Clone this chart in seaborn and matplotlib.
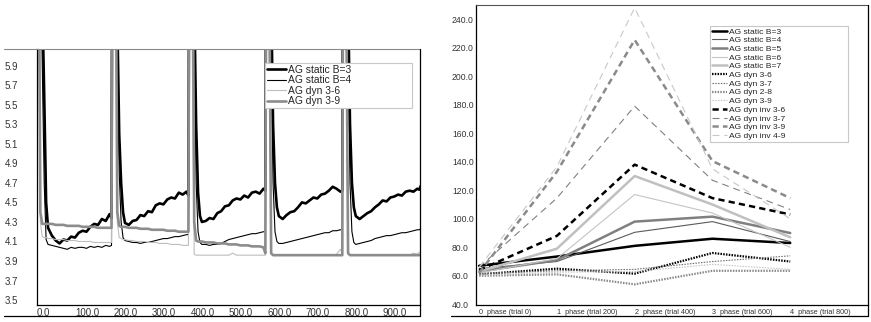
import matplotlib
matplotlib.use("Agg")
import matplotlib.pyplot as plt
import seaborn as sns

# ---- left panel: per-trial values, 5 phases of 200 trials ----
phase_starts = [0, 200, 400, 600, 800]
offsets = [0, 5, 10, 15, 20, 25, 30, 40, 50, 60, 70, 80, 90, 100, 110, 120,
           130, 140, 150, 160, 170, 180, 190, 195]
last_trial = 999

static_b3 = [
    12.0, 9.5, 8.0, 6.6, 5.6, 4.5, 4.24, 4.16, 4.11, 4.08, 4.12, 4.11, 4.15, 4.14, 4.19, 4.21, 4.20, 4.25, 4.28, 4.27, 4.33, 4.31, 4.38, 4.34,
    12.0, 9.8, 6.4, 5.2, 4.7, 4.4, 4.29, 4.27, 4.31, 4.32, 4.37, 4.36, 4.41, 4.40, 4.47, 4.49, 4.48, 4.53, 4.55, 4.54, 4.60, 4.58, 4.61, 4.57,
    12.0, 9.8, 6.6, 5.3, 4.6, 4.36, 4.30, 4.31, 4.34, 4.33, 4.39, 4.41, 4.46, 4.47, 4.52, 4.54, 4.53, 4.57, 4.55, 4.60, 4.61, 4.59, 4.64, 4.62,
    12.0, 9.8, 6.6, 5.3, 4.7, 4.45, 4.36, 4.33, 4.37, 4.40, 4.41, 4.45, 4.50, 4.49, 4.52, 4.55, 4.54, 4.58, 4.59, 4.62, 4.66, 4.64, 4.61, 4.62,
    12.0, 9.8, 6.6, 5.3, 4.7, 4.45, 4.36, 4.33, 4.36, 4.39, 4.41, 4.45, 4.48, 4.52, 4.51, 4.55, 4.56, 4.58, 4.57, 4.61, 4.62, 4.61, 4.64, 4.63,
    4.67]
static_b4 = [
    12.0, 9.0, 7.2, 5.9, 4.7, 4.12, 4.07, 4.06, 4.05, 4.04, 4.03, 4.02, 4.04, 4.03, 4.04, 4.04, 4.03, 4.05, 4.04, 4.05, 4.04, 4.06, 4.05, 4.06,
    12.0, 9.0, 6.0, 4.8, 4.3, 4.14, 4.11, 4.10, 4.09, 4.09, 4.08, 4.09, 4.09, 4.10, 4.11, 4.12, 4.13, 4.13, 4.14, 4.15, 4.15, 4.16, 4.17, 4.17,
    12.0, 9.0, 6.0, 4.7, 4.2, 4.09, 4.07, 4.07, 4.06, 4.07, 4.07, 4.08, 4.10, 4.12, 4.13, 4.14, 4.15, 4.16, 4.17, 4.18, 4.18, 4.19, 4.20, 4.20,
    12.0, 9.0, 6.0, 4.7, 4.2, 4.10, 4.08, 4.08, 4.09, 4.10, 4.11, 4.12, 4.13, 4.14, 4.15, 4.16, 4.17, 4.18, 4.19, 4.19, 4.21, 4.21, 4.22, 4.22,
    12.0, 9.0, 6.0, 4.7, 4.2, 4.09, 4.07, 4.08, 4.09, 4.10, 4.11, 4.13, 4.14, 4.15, 4.16, 4.16, 4.17, 4.18, 4.19, 4.19, 4.20, 4.21, 4.22, 4.22,
    4.23]
dyn_3_6 = [
    12.0, 7.0, 4.3, 4.15, 4.14, 4.14, 4.13, 4.13, 4.12, 4.12, 4.12, 4.11, 4.11, 4.11, 4.10, 4.10, 4.10, 4.10, 4.09, 4.09, 4.09, 4.09, 4.09, 4.09,
    12.0, 7.0, 4.3, 4.14, 4.13, 4.12, 4.12, 4.11, 4.11, 4.10, 4.10, 4.10, 4.09, 4.09, 4.09, 4.08, 4.08, 4.08, 4.07, 4.07, 4.07, 4.06, 4.06, 4.06,
    12.0, 6.0, 3.97, 3.96, 3.96, 3.96, 3.96, 3.96, 3.96, 3.96, 3.96, 3.96, 3.96, 3.96, 3.98, 3.96, 3.96, 3.96, 3.96, 3.96, 3.96, 3.96, 3.96, 3.96,
    12.0, 6.0, 3.97, 3.96, 3.96, 3.96, 3.96, 3.96, 3.96, 3.96, 3.96, 3.96, 3.96, 3.96, 3.96, 3.96, 3.96, 3.96, 3.96, 3.96, 3.96, 3.97, 4.02, 3.98,
    12.0, 6.0, 3.97, 3.96, 3.96, 3.96, 3.96, 3.96, 3.96, 3.96, 3.96, 3.96, 3.96, 3.96, 3.96, 3.96, 3.96, 3.96, 3.96, 3.96, 3.96, 3.98, 3.97, 3.99,
    3.98]
dyn_3_9 = [
    12.0, 8.0, 4.4, 4.28, 4.28, 4.28, 4.28, 4.28, 4.27, 4.27, 4.27, 4.26, 4.26, 4.26, 4.26, 4.25, 4.25, 4.25, 4.25, 4.24, 4.24, 4.24, 4.24, 4.24,
    12.0, 8.0, 4.4, 4.26, 4.25, 4.25, 4.25, 4.24, 4.24, 4.24, 4.23, 4.23, 4.23, 4.22, 4.22, 4.22, 4.22, 4.21, 4.21, 4.21, 4.20, 4.20, 4.20, 4.20,
    12.0, 8.0, 4.3, 4.11, 4.10, 4.10, 4.10, 4.09, 4.09, 4.09, 4.08, 4.08, 4.08, 4.07, 4.07, 4.07, 4.06, 4.06, 4.06, 4.05, 4.05, 4.05, 4.04, 3.98,
    12.0, 7.0, 3.98, 3.96, 3.96, 3.96, 3.96, 3.96, 3.96, 3.96, 3.96, 3.96, 3.96, 3.96, 3.96, 3.96, 3.96, 3.96, 3.96, 3.96, 3.96, 3.96, 3.96, 3.96,
    12.0, 7.0, 3.98, 3.96, 3.96, 3.96, 3.96, 3.96, 3.96, 3.96, 3.96, 3.96, 3.96, 3.96, 3.96, 3.96, 3.96, 3.96, 3.96, 3.96, 3.96, 3.96, 3.96, 3.96,
    3.96]

trials = [s + o for s in phase_starts for o in offsets] + [last_trial]

# ---- right panel: value per phase ----
phases = [0, 1, 2, 3, 4]
phase_labels = ["0  phase (trial 0)", "1  phase (trial 200)", "2  phase (trial 400)",
                "3  phase (trial 600)", "4  phase (trial 800)"]
right_series = {
    "AG static B=3": [67, 73.5, 81, 86, 83],
    "AG static B=4": [65, 70, 90.5, 98, 84],
    "AG static B=5": [63, 71, 98, 101.5, 90],
    "AG static B=6": [62, 72, 117, 104, 80],
    "AG static B=7": [63, 79, 130, 110, 87],
    "AG dyn 3-6": [61, 65, 61.5, 76, 70],
    "AG dyn 3-7": [61.5, 63.5, 64.5, 70, 74],
    "AG dyn 2-8": [60, 61, 54, 63.5, 63.5],
    "AG dyn 3-9": [60.5, 62.5, 63, 68, 64.5],
    "AG dyn inv 3-6": [64, 88, 138, 114.5, 103],
    "AG dyn inv 3-7": [66, 114.5, 179, 127, 106.5],
    "AG dyn inv 3-9": [62, 133, 225.5, 140.5, 114.5],
    "AG dyn inv 4-9": [66, 136.5, 248, 135, 100],
}
# colour, width, dash pattern
right_styles = [
    ("#000000", 1.8, None), ("#5a5a5a", 0.8, None), ("#808080", 1.8, None),
    ("#c4c4c4", 0.8, None), ("#c0c0c0", 1.8, None),
    ("#000000", 1.6, (1.1, 0.9)), ("#707070", 0.8, (1.1, 0.9)),
    ("#8a8a8a", 1.6, (1.1, 0.9)), ("#c4c4c4", 0.8, (1.1, 0.9)),
    ("#000000", 1.8, (4.5, 3.0)), ("#808080", 0.8, (5.0, 3.5)),
    ("#8a8a8a", 1.8, (4.5, 3.0)), ("#c8c8c8", 0.8, (5.0, 3.5)),
]

sns.set_theme(style="white")
plt.rcParams["font.family"] = ["Liberation Sans", "DejaVu Sans"]
plt.rcParams["lines.scale_dashes"] = False

W, H = 871, 322
fig = plt.figure(figsize=(W / 100, H / 100), dpi=100)


def box(x0, y0, x1, y1):
    # pixel box (from top-left) -> figure fraction rect
    return [x0 / W, 1 - y1 / H, (x1 - x0) / W, (y1 - y0) / H]


def fig_line(xs, ys, color, lw):
    fig.add_artist(plt.Line2D([x / W for x in xs], [1 - y / H for y in ys],
                              transform=fig.transFigure, color=color, lw=lw))


ax1 = fig.add_axes(box(36.5, 49, 420, 305))
ax2 = fig.add_axes(box(476, 5, 868, 305))

# left chart
left_series = [
    ("AG static B=3", static_b3, "#000000", 1.9),
    ("AG static B=4", static_b4, "#000000", 0.8),
    ("AG dyn 3-6", dyn_3_6, "#bdbdbd", 0.8),
    ("AG dyn 3-9", dyn_3_9, "#8c8c8c", 1.9),
]
for name, vals, col, lw in left_series:
    sns.lineplot(x=trials, y=vals, ax=ax1, color=col, linewidth=lw, label=name,
                 sort=False, errorbar=None)

ax1.set_xlim(0, 997)
ax1.set_ylim(3.45, 6.07)
ax1.set_xticks([0, 100, 200, 300, 400, 500, 600, 700, 800, 900])
ax1.set_xticklabels([f"{v:.1f}" for v in ax1.get_xticks()])
ax1.set_yticks([3.5, 3.7, 3.9, 4.1, 4.3, 4.5, 4.7, 4.9, 5.1, 5.3, 5.5, 5.7, 5.9])
ax1.set_yticklabels([f"{v:.1f}" for v in ax1.get_yticks()])
ax1.tick_params(axis="y", length=0, pad=22.7, labelsize=7, colors="#333333")
ax1.tick_params(axis="x", length=0, pad=1.8, labelsize=7, colors="#333333")

leg1 = ax1.legend(loc="upper left", bbox_to_anchor=(0.596, 0.0, 0.383, 0.945),
                  mode="expand", borderaxespad=0,
                  fontsize=7.4, frameon=True, fancybox=False, framealpha=1,
                  edgecolor="#c8c8c8", handlelength=1.9, handletextpad=0.15,
                  labelspacing=0.05, borderpad=0.15)
leg1.get_frame().set_linewidth(0.8)

# right chart
for (name, vals), (col, lw, dash) in zip(right_series.items(), right_styles):
    sns.lineplot(x=phases, y=vals, ax=ax2, color=col, linewidth=lw, label=name,
                 sort=False, errorbar=None)
    if dash is not None:
        ax2.lines[-1].set_dashes(dash)

ax2.set_xlim(-0.04, 5.0)
ax2.set_ylim(39.5, 250)
ax2.set_xticks(phases)
ax2.set_xticklabels(phase_labels)
ax2.set_yticks(list(range(40, 241, 20)))
ax2.set_yticklabels([f"{v:.1f}" for v in range(40, 241, 20)])
ax2.tick_params(axis="y", length=0, pad=17.3, labelsize=6.2, colors="#333333")
ax2.tick_params(axis="x", length=0, pad=3.0, labelsize=5.2, colors="#333333")

leg2 = ax2.legend(loc="upper left", bbox_to_anchor=(0.597, 0.0, 0.352, 0.93),
                  mode="expand", borderaxespad=0,
                  fontsize=6.1, frameon=True, fancybox=False, framealpha=1,
                  edgecolor="#c8c8c8", handlelength=1.8, handletextpad=0.25,
                  labelspacing=0.09, borderpad=0.2)
leg2.get_frame().set_linewidth(0.8)

for ax in (ax1, ax2):
    for lab in ax.get_yticklabels():
        lab.set_horizontalalignment("left")
    for lab in ax.get_xticklabels():
        lab.set_horizontalalignment("left")
    for side in ("top", "right"):
        ax.spines[side].set_visible(False)
    for side in ("left", "bottom"):
        ax.spines[side].set_color("black")
        ax.spines[side].set_linewidth(0.9)

# outer frames of the two chart widgets
fig_line([4, 420], [49, 49], "#8a8a8a", 0.8)
fig_line([420, 420], [49, 316], "black", 0.9)
fig_line([4, 420], [316, 316], "black", 0.9)
fig_line([476, 868], [5, 5], "#555555", 0.8)
fig_line([868, 868], [5, 316], "black", 0.9)
fig_line([451, 868], [316, 316], "black", 0.9)

fig.savefig("out.png", dpi=100)
